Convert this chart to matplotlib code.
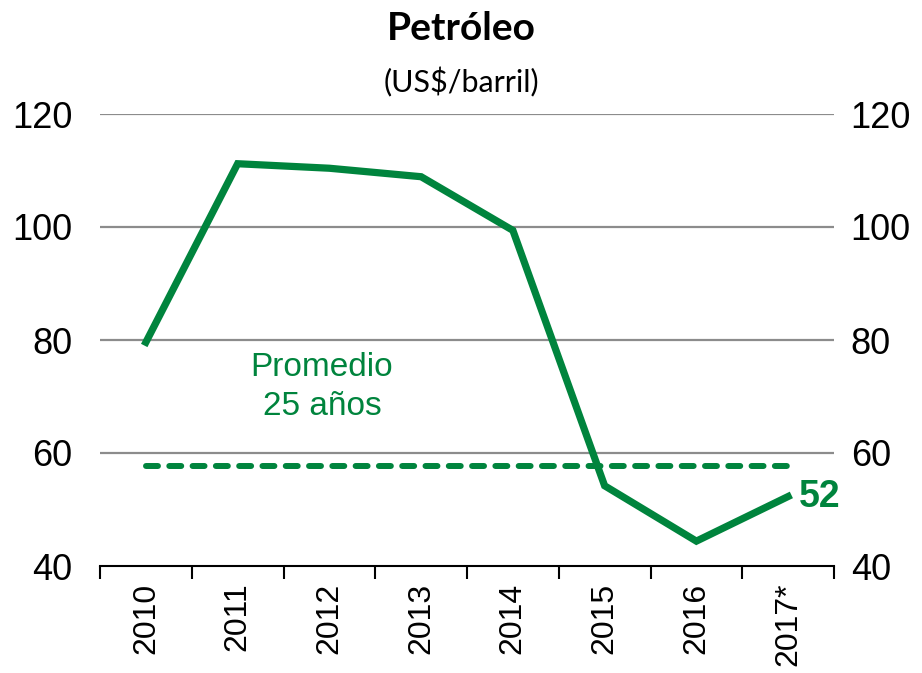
import matplotlib
matplotlib.use("Agg")
from matplotlib import pyplot as plt
import numpy as np

# datos
anios = ['2010', '2011', '2012', '2013', '2014', '2015', '2016', '2017*']
precio = [79.6, 111.2, 110.4, 108.9, 99.4, 54.2, 44.4, 52.3]
promedio_25 = 57.7
ticks_y = [40, 60, 80, 100, 120]

verde = '#00843D'
arial = ['Liberation Sans', 'DejaVu Sans']

fig = plt.figure(figsize=(9.22, 6.73), dpi=100)
ax = fig.add_axes([100/922, 1-566/673, 734/922, 452/673])

x = np.arange(len(anios))
ax.plot(x, precio, color=verde, lw=5.2, solid_joinstyle='miter', zorder=3)
ax.plot([x[0], x[-1]], [promedio_25, promedio_25], color=verde, lw=4.3,
        dashes=(2.0, 1.9), dash_capstyle='round', zorder=3)

ax.set_xlim(-0.5, len(anios)-0.5)
ax.set_ylim(40, 120)

# grilla
for v in ticks_y[1:]:
    ax.axhline(v, color='#8c8c8c', lw=1.6, zorder=1)

for s in ['left', 'right', 'top']:
    ax.spines[s].set_visible(False)
ax.spines['bottom'].set_color('black')
ax.spines['bottom'].set_linewidth(1.5)

ax.set_xticks(np.arange(len(anios)+1)-0.5, minor=True)
ax.set_xticks(x)
ax.set_xticklabels(anios, rotation=90, fontsize=23, family=arial)
ax.tick_params(axis='x', which='major', length=0, pad=12)
ax.tick_params(axis='x', which='minor', length=9, width=1.5, direction='out')

ax.set_yticks(ticks_y)
ax.set_yticklabels([str(t) for t in ticks_y], fontsize=26, family=arial)
ax.tick_params(axis='y', length=0, pad=20)

ax2 = ax.twinx()
ax2.set_ylim(40, 120)
ax2.set_yticks(ticks_y)
ax2.set_yticklabels([str(t) for t in ticks_y], fontsize=26, family=arial)
ax2.tick_params(axis='y', length=0, pad=12)
for s in ax2.spines.values():
    s.set_visible(False)

ax.text(1.92, 77.8, 'Promedio\n25 años', color=verde, fontsize=24,
        family=arial, ha='center', va='top', linespacing=1.3)
ax.text(x[-1]+0.12, precio[-1], '%d' % int(precio[-1]), color=verde,
        fontsize=27, fontweight='bold', family=arial, ha='left', va='center')

fig.text(0.5, 0.957, 'Petróleo', fontsize=28, fontweight='bold',
         family=['Lato', 'DejaVu Sans'], ha='center', va='center')
fig.text(0.5, 0.878, '(US$/barril)', fontsize=22,
         family=['Lato', 'DejaVu Sans'], ha='center', va='center')

fig.savefig('out.png', dpi=100)
